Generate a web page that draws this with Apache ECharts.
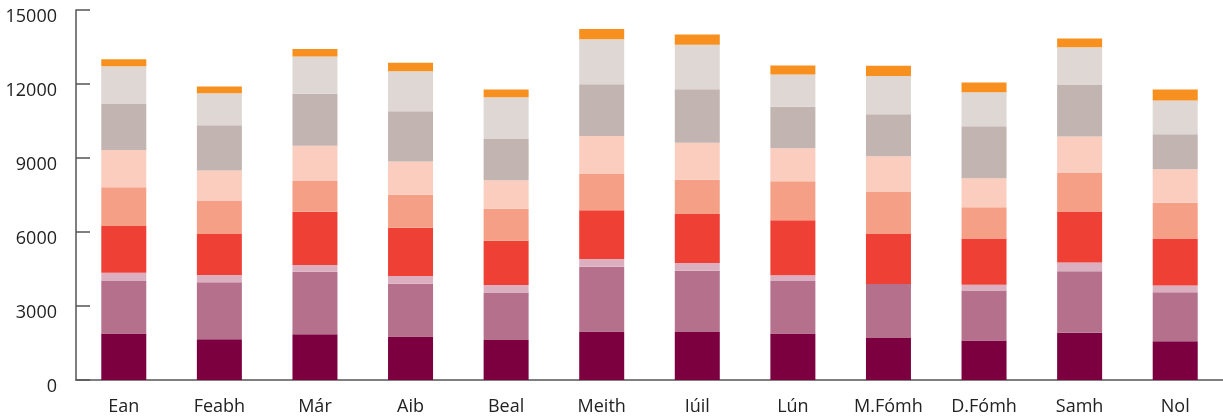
<!DOCTYPE html>
<html>
<head>
<meta charset="utf-8">
<script src="https://cdn.jsdelivr.net/npm/echarts@6/dist/echarts.min.js"></script>
<style>html,body{margin:0;padding:0;background:#fff}#c{width:1223px;height:417px}</style>
</head>
<body>
<div id="c"></div>
<script>
const categories = ['Ean','Feabh','Már','Aib','Beal','Meith','Iúil','Lún','M.Fómh','D.Fómh','Samh','Nol'];
const yTicks = [0, 3000, 6000, 9000, 12000, 15000];

const s1 = [1890, 1650, 1850, 1760, 1620, 1970, 1950, 1890, 1700, 1600, 1920, 1570];
const s2 = [2120, 2310, 2540, 2140, 1930, 2620, 2480, 2120, 2190, 2030, 2490, 1990];
const s3 = [340, 300, 270, 320, 300, 320, 310, 240, 0, 230, 350, 270];
const s4 = [1890, 1660, 2160, 1950, 1800, 1970, 1990, 2230, 2030, 1880, 2070, 1910];
const s5 = [1570, 1340, 1250, 1340, 1290, 1470, 1390, 1580, 1700, 1260, 1580, 1450];
const s6 = [1510, 1230, 1430, 1350, 1160, 1540, 1500, 1340, 1450, 1180, 1460, 1350];
const s7 = [1870, 1840, 2100, 2040, 1670, 2100, 2170, 1680, 1700, 2110, 2110, 1420];
const s8 = [1530, 1300, 1510, 1620, 1690, 1820, 1800, 1310, 1550, 1380, 1510, 1370];
const s9 = [280, 270, 310, 340, 320, 420, 420, 360, 420, 390, 350, 450];

const seriesData = [s1, s2, s3, s4, s5, s6, s7, s8, s9];
const colors = ['#7c0040', '#b5718c', '#dbafbf', '#ef4036', '#f5a086', '#fbcdbe', '#c2b4b0', '#ded7d4', '#f7901e'];

const chart = echarts.init(document.getElementById('c'));
chart.setOption({
  animation: false,
  grid: { left: 76, right: 0, top: 10, bottom: 37 },
  xAxis: {
    type: 'category',
    data: categories,
    axisLine: { lineStyle: { color: '#555', width: 1.5 } },
    axisTick: { inside: true, length: 10, lineStyle: { color: '#555', width: 1.5 } },
    axisLabel: { color: '#222', fontFamily: 'Open Sans', fontSize: 18, margin: 18 }
  },
  yAxis: {
    type: 'value',
    min: 0, max: 15000, interval: 3000,
    splitLine: { show: false },
    axisLine: { show: true, lineStyle: { color: '#555', width: 1.5 } },
    axisTick: { show: true, inside: true, length: 14, lineStyle: { color: '#555', width: 1.5 } },
    axisLabel: {
      color: '#222', fontFamily: 'Open Sans', fontSize: 18, margin: 19,
      verticalAlign: 'top', lineHeight: 14,
      formatter: v => yTicks.includes(v) ? String(v) : ''
    }
  },
  series: seriesData.map((d, i) => ({
    type: 'bar',
    name: 'S' + (i + 1),
    stack: 'total',
    data: d,
    barWidth: 45,
    itemStyle: { color: colors[i] }
  }))
});
</script>
</body>
</html>
